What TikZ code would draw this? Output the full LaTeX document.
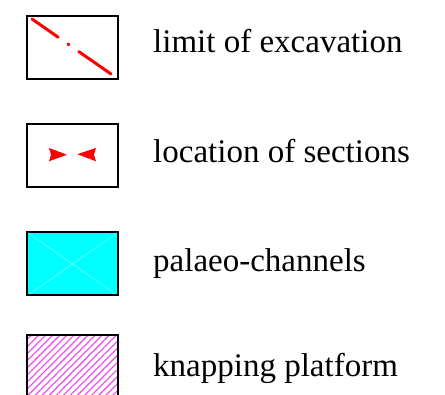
\documentclass[tikz,border=0pt]{standalone}
\usepackage{fontspec}
\setmainfont{Liberation Serif}
\usepackage{tikz}
\usetikzlibrary{positioning, calc, patterns.meta}
\definecolor{channelcyan}{rgb}{0, 1, 1}
\definecolor{channelcross}{rgb}{0.55, 1, 1}
\definecolor{platformpink}{rgb}{0.95, 0.25, 0.95}
\definecolor{sectionred}{rgb}{1, 0, 0}

\begin{document}
\begin{tikzpicture}[x=1pt, y=-1pt]
\tikzstyle{keybox}=[rectangle, draw=black, line width=2pt, minimum width=91pt, minimum height=63pt, inner sep=0pt]
\tikzstyle{keytext}=[anchor=base west, inner sep=0pt, font=\fontsize{33}{40}\selectfont]
\useasboundingbox (0,0) rectangle (445,395);
\clip (0,0) rectangle (445,395);
%%
\node (k1) at (72.5, 47.5) [keybox] {};
\node (k2) at (72.5, 155.5) [keybox] {};
\node (k3) at (72.5, 264) [keybox, fill=channelcyan] {};
\node (k4) at (72.5, 366.5) [keybox, pattern={Lines[angle=45, distance=5pt, line width=1.1pt]}, pattern color=platformpink] {};

%% limit of excavation
\draw [sectionred, line width=3pt, line cap=round, dash pattern=on 32pt off 12pt on 1pt off 12pt on 40pt] ($(k1.north west)+(6,4)$) -- ($(k1.south east)+(-8,-6)$);

%% location of sections
\fill [sectionred] (49,148) -- (67,154.7) -- (49,161.3) -- (51,154.7) -- cycle;
\fill [sectionred] (96,148) -- (77.3,154.2) -- (96,161.3) -- (94,154.7) -- cycle;

%% palaeo-channels
\draw [channelcross, line width=0.5pt] (k3.north west) -- (k3.south east);
\draw [channelcross, line width=0.5pt] (k3.north east) -- (k3.south west);
\node (k3b) at (k3) [keybox] {};

\node (t1) at (153, 53) [keytext] {limit of excavation};
\node (t2) at (153, 163) [keytext] {location of sections};
\node (t3) at (153, 271.5) [keytext] {palaeo-channels};
\node (t4) at (153, 376.5) [keytext] {knapping platform};
\end{tikzpicture}
\end{document}
